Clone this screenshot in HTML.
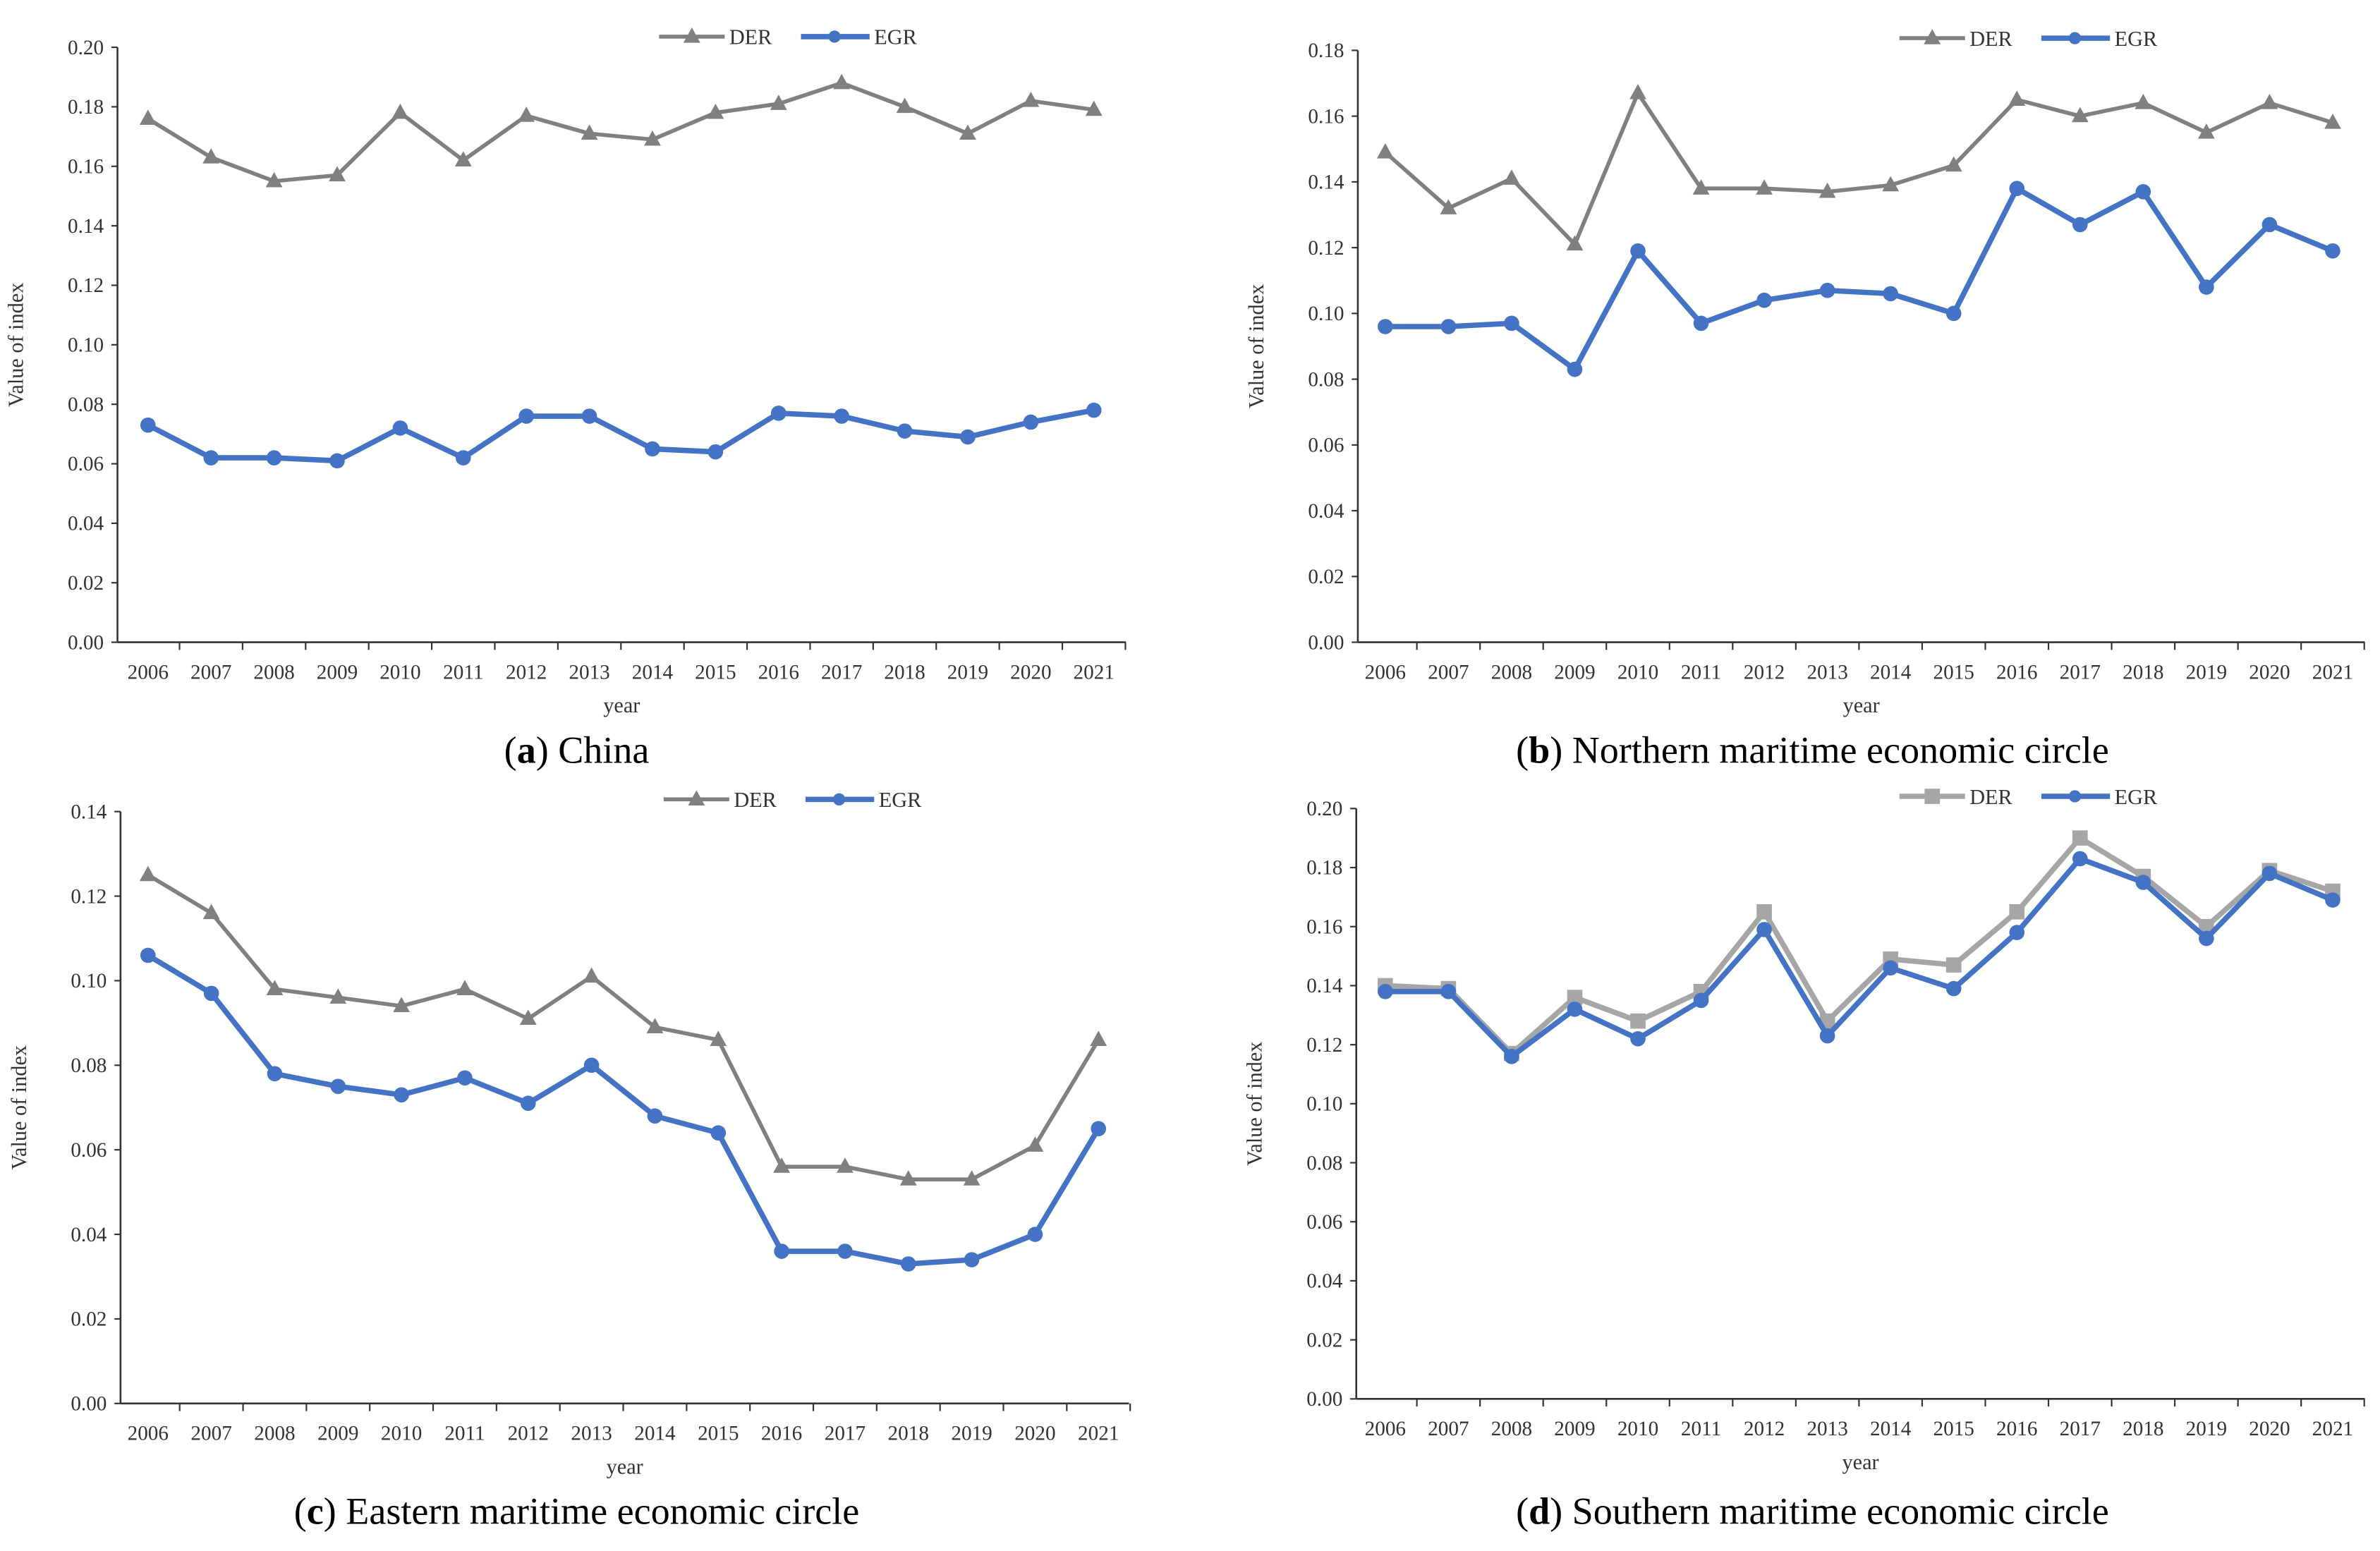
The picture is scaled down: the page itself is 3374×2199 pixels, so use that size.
<!DOCTYPE html>
<html><head><meta charset="utf-8"><style>
html,body{margin:0;padding:0;background:#fff}
svg{display:block}
text{font-family:"Liberation Serif",serif;fill:#333}
</style></head><body>
<svg id="fig" width="3374" height="2199" viewBox="0 0 1560 1016.7" xmlns="http://www.w3.org/2000/svg"></svg>
<script>
const years = ["2006","2007","2008","2009","2010","2011","2012","2013","2014","2015","2016","2017","2018","2019","2020","2021"];
const derA = [0.176,0.163,0.155,0.157,0.178,0.162,0.177,0.171,0.169,0.178,0.181,0.188,0.180,0.171,0.182,0.179];
const egrA = [0.073,0.062,0.062,0.061,0.072,0.062,0.076,0.076,0.065,0.064,0.077,0.076,0.071,0.069,0.074,0.078];
const derB = [0.149,0.132,0.141,0.121,0.167,0.138,0.138,0.137,0.139,0.145,0.165,0.160,0.164,0.155,0.164,0.158];
const egrB = [0.096,0.096,0.097,0.083,0.119,0.097,0.104,0.107,0.106,0.100,0.138,0.127,0.137,0.108,0.127,0.119];
const derC = [0.125,0.116,0.098,0.096,0.094,0.098,0.091,0.101,0.089,0.086,0.056,0.056,0.053,0.053,0.061,0.086];
const egrC = [0.106,0.097,0.078,0.075,0.073,0.077,0.071,0.080,0.068,0.064,0.036,0.036,0.033,0.034,0.040,0.065];
const derD = [0.140,0.139,0.117,0.136,0.128,0.138,0.165,0.128,0.149,0.147,0.165,0.190,0.177,0.160,0.179,0.172];
const egrD = [0.138,0.138,0.116,0.132,0.122,0.135,0.159,0.123,0.146,0.139,0.158,0.183,0.175,0.156,0.178,0.169];
const ticksA = ["0.00","0.02","0.04","0.06","0.08","0.10","0.12","0.14","0.16","0.18","0.20"];
const ticksB = ["0.00","0.02","0.04","0.06","0.08","0.10","0.12","0.14","0.16","0.18"];
const ticksC = ["0.00","0.02","0.04","0.06","0.08","0.10","0.12","0.14"];
const ticksD = ticksA;

const NS="http://www.w3.org/2000/svg";
const svg=document.getElementById('fig');
function mk(tag,attrs,parent){const e=document.createElementNS(NS,tag);for(const k in attrs)e.setAttribute(k,attrs[k]);(parent||svg).appendChild(e);return e;}

function panel(cfg){
  const g=mk('g',{});
  
  
  const {ax,y0,ymaxPix,ymax,x0,x1,right}=cfg;
  const yS=v=>y0-(v/ymax)*(y0-ymaxPix);
  const step=(x1-x0)/(years.length-1);
  const xS=i=>x0+i*step;
  const ya=mk('line',{x1:ax,y1:ymaxPix,x2:ax,y2:y0,stroke:'#333','stroke-width':1.2},g);
  
  const xa=mk('line',{x1:ax,y1:y0,x2:right,y2:y0,stroke:'#333','stroke-width':1.2},g);
  
  cfg.ticks.forEach((t,i)=>{
    const v=parseFloat(t);const y=yS(v);
    mk('line',{x1:ax-4,y1:y,x2:ax,y2:y,stroke:'#333','stroke-width':1},g);
    const tx=mk('text',{x:ax-9,y:y+4.5,'font-size':13.5,'text-anchor':'end'},g);
    tx.textContent=t;
    
  });
  for(let i=0;i<=years.length;i++){
    const x=x0+(i-0.5)*step;
    if(x>ax+1) mk('line',{x1:x,y1:y0,x2:x,y2:y0+5,stroke:'#333','stroke-width':1},g);
  }
  years.forEach((yr,i)=>{
    const tx=mk('text',{x:xS(i),y:y0+24,'font-size':13.5,'text-anchor':'middle'},g);
    tx.textContent=yr;
    
  });
  const xt=mk('text',{x:(ax+right)/2,y:y0+46,'font-size':14,'text-anchor':'middle'},g);
  xt.textContent='year';
  
  const yc=(y0+ymaxPix)/2;
  const yt=mk('text',{x:0,y:0,'font-size':14,'text-anchor':'middle',transform:`translate(${ax-62},${yc}) rotate(-90)`},g);
  yt.textContent='Value of index';
  
  function series(vals,color,width,marker,name){
    const sg=mk('g',{},g);
    
    mk('polyline',{points:vals.map((v,i)=>xS(i)+','+yS(v)).join(' '),fill:'none',stroke:color,'stroke-width':width,'stroke-linejoin':'round'},sg);
    vals.forEach((v,i)=>{
      const x=xS(i),y=yS(v);let m;
      if(marker==='tri') m=mk('polygon',{points:`${x},${y-6} ${x-5.5},${y+4} ${x+5.5},${y+4}`,fill:color},sg);
      else if(marker==='sq') m=mk('rect',{x:x-5,y:y-5,width:10,height:10,fill:color},sg);
      else m=mk('circle',{cx:x,cy:y,r:5,fill:color},sg);
      
      
    });
  }
  series(cfg.der,cfg.derColor,cfg.derW,cfg.derMarker,'der-series');
  series(cfg.egr,'#4472c4',3.5,'circ','egr-series');
  const lg=mk('g',{},g);
  
  const ly=cfg.ly,lx=cfg.lx;
  mk('line',{x1:lx,y1:ly,x2:lx+43,y2:ly,stroke:cfg.derColor,'stroke-width':cfg.derW},lg);
  if(cfg.derMarker==='tri') mk('polygon',{points:`${lx+21.5},${ly-6} ${lx+16},${ly+4} ${lx+27},${ly+4}`,fill:cfg.derColor},lg);
  else mk('rect',{x:lx+16.5,y:ly-5,width:10,height:10,fill:cfg.derColor},lg);
  const t1=mk('text',{x:lx+46,y:ly+5,'font-size':14},lg);t1.textContent='DER';
  
  mk('line',{x1:lx+93,y1:ly,x2:lx+138,y2:ly,stroke:'#4472c4','stroke-width':3.5},lg);
  mk('circle',{cx:lx+115,cy:ly,r:4,fill:'#4472c4'},lg);
  const t2=mk('text',{x:lx+141,y:ly+5,'font-size':14},lg);t2.textContent='EGR';
  
  const cap=mk('text',{x:cfg.capX,y:cfg.capY,'font-size':25,'text-anchor':'middle'},g);
  cap.innerHTML='(<tspan font-weight="bold">'+cfg.id+'</tspan>) '+cfg.caption;
  cap.style.fill='#000';
  
}

panel({id:'a',ax:77,y0:421,ymaxPix:31,ymax:0.20,x0:97,x1:717,right:738,ticks:ticksA,der:derA,egr:egrA,derColor:'#808080',derW:2.6,derMarker:'tri',lx:432,ly:24,capX:378,capY:500,caption:'China'});
panel({id:'b',ax:890,y0:421,ymaxPix:33,ymax:0.18,x0:908,x1:1529,right:1550,ticks:ticksB,der:derB,egr:egrB,derColor:'#808080',derW:2.6,derMarker:'tri',lx:1245,ly:25,capX:1188,capY:500,caption:'Northern maritime economic circle'});
panel({id:'c',ax:79,y0:920,ymaxPix:532,ymax:0.14,x0:97,x1:720,right:740,ticks:ticksC,der:derC,egr:egrC,derColor:'#808080',derW:2.6,derMarker:'tri',lx:435,ly:524,capX:378,capY:999,caption:'Eastern maritime economic circle'});
panel({id:'d',ax:889,y0:917,ymaxPix:530,ymax:0.20,x0:908,x1:1529,right:1550,ticks:ticksD,der:derD,egr:egrD,derColor:'#a6a6a6',derW:3.5,derMarker:'sq',lx:1245,ly:522,capX:1188,capY:999,caption:'Southern maritime economic circle'});
</script>
</body></html>
